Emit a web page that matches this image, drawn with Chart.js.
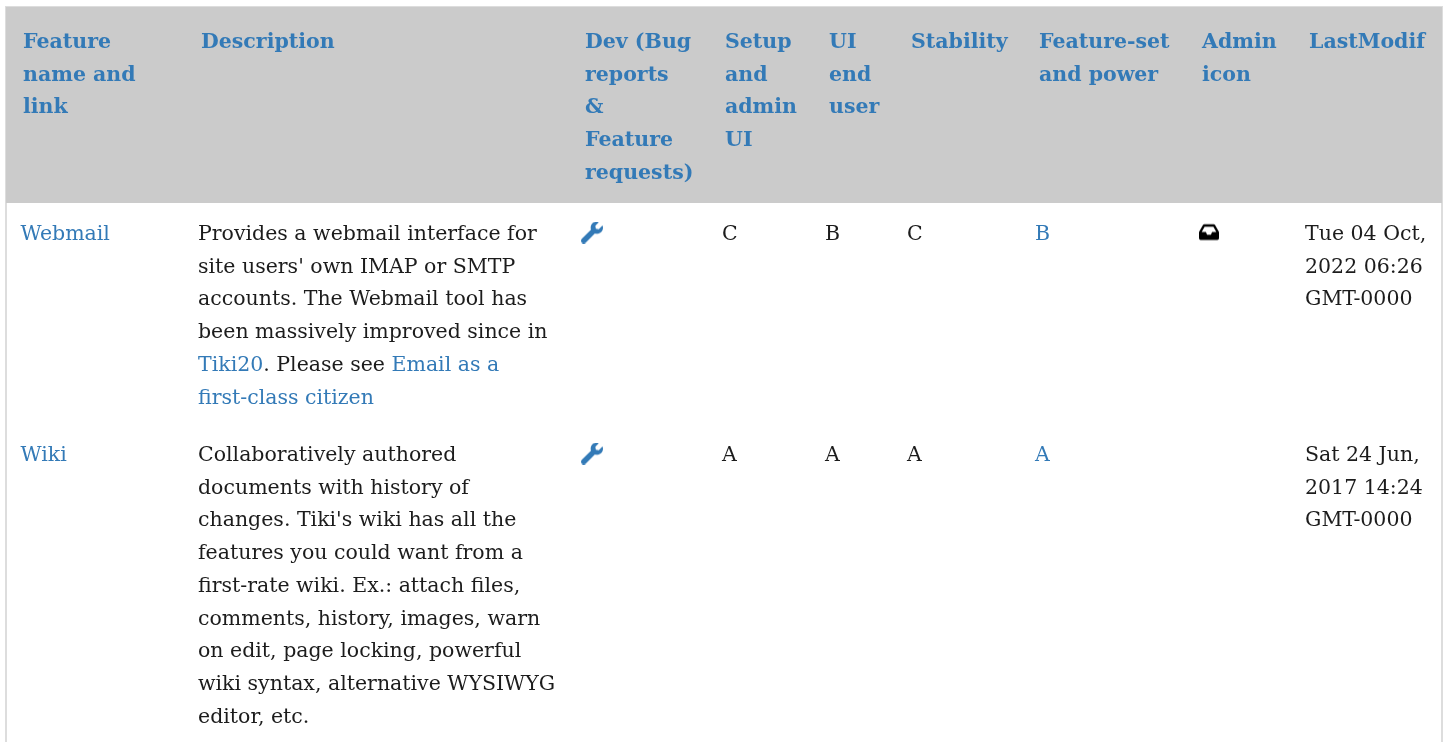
<!DOCTYPE html>
<html>
<head>
<meta charset="utf-8">
<title>Features</title>
<script src="https://cdn.jsdelivr.net/npm/chart.js@4/dist/chart.umd.min.js"></script>
<style>
    html, body { margin: 0; padding: 0; background: #fff; overflow: hidden; }
    canvas { display: block; }
</style>
</head>
<body>
<canvas id="table-chart" width="1450" height="742"></canvas>
<script>
// Table content
const columnHeaders = [
    ['Feature', 'name and', 'link'],
    ['Description'],
    ['Dev (Bug', 'reports', '&', 'Feature', 'requests)'],
    ['Setup', 'and', 'admin', 'UI'],
    ['UI', 'end', 'user'],
    ['Stability'],
    ['Feature-set', 'and power'],
    ['Admin', 'icon'],
    ['LastModif']
];
const featureNames = ['Webmail', 'Wiki'];
// [text] marks a link inside a line
const descriptions = [
    ['Provides a webmail interface for', "site users' own IMAP or SMTP", 'accounts. The Webmail tool has', 'been massively improved since in', '[Tiki20]. Please see [Email as a]', '[first-class citizen]'],
    ['Collaboratively authored', 'documents with history of', "changes. Tiki's wiki has all the", 'features you could want from a', 'first-rate wiki. Ex.: attach files,', 'comments, history, images, warn', 'on edit, page locking, powerful', 'wiki syntax, alternative WYSIWYG', 'editor, etc.']
];
const setupGrades = ['C', 'A'];
const uiGrades = ['B', 'A'];
const stabilityGrades = ['C', 'A'];
const powerGrades = ['B', 'A'];
const lastModified = [
    ['Tue 04 Oct,', '2022 06:26', 'GMT-0000'],
    ['Sat 24 Jun,', '2017 14:24', 'GMT-0000']
];

// Layout, in chart units (the scales map 1:1 to the canvas)
const headerX = [23, 201, 585, 725, 829, 911, 1039, 1202, 1309];
const cellX = [20.5, 198, 581, 722, 825, 907, 1035, 1198, 1305];
const headerBaseline = 48;
const rowBaseline = [240, 461];
const lineHeight = 32.7;
const linkColor = '#337ab7';
const textColor = '#1c1c1c';
const serif = '"DejaVu Serif", serif';

function iconSprite(path, viewW, viewH, w, h, color) {
    const c = document.createElement('canvas');
    c.width = w;
    c.height = h;
    const g = c.getContext('2d');
    g.scale(w / viewW, h / viewH);
    g.fillStyle = color;
    g.fill(new Path2D(path));
    return c;
}

const wrench = iconSprite('M507.73 109.1c-2.24-9.03-13.54-12.09-20.12-5.51l-74.36 74.36-67.88-11.31-11.31-67.88 74.36-74.36c6.62-6.62 3.43-17.9-5.66-20.16-47.38-11.74-99.55.91-136.58 37.93-39.64 39.64-50.55 97.1-34.05 147.2L18.74 402.76c-24.99 24.99-24.99 65.51 0 90.5 24.99 24.99 65.51 24.99 90.5 0l213.21-213.21c50.12 16.71 107.47 5.68 147.37-34.22 37.07-37.07 49.7-89.32 37.91-136.73z', 512, 512, 22, 22, linkColor);
const inbox = iconSprite('M567.938 243.908L462.25 85.374A48.003 48.003 0 0 0 422.311 64H153.689a48 48 0 0 0-39.938 21.374L8.062 243.908A47.994 47.994 0 0 0 0 270.533V400c0 26.51 21.49 48 48 48h480c26.51 0 48-21.49 48-48V270.533a47.994 47.994 0 0 0-8.062-26.625zM162.252 128h251.497l85.333 128H376l-32 64H232l-32-64H76.918l85.334-128z', 576, 512, 20, 21, '#000');

// Borders and header band, drawn under the icons
const tableFrame = {
    id: 'tableFrame',
    beforeDatasetsDraw(chart) {
        const { ctx, scales: { x, y } } = chart;
        ctx.save();
        ctx.fillStyle = '#dddddd';
        ctx.fillRect(x.getPixelForValue(5), y.getPixelForValue(6), 1438, 736);
        ctx.fillStyle = '#ffffff';
        ctx.fillRect(x.getPixelForValue(7), y.getPixelForValue(203), 1434, 539);
        ctx.fillStyle = '#cbcbcb';
        ctx.fillRect(x.getPixelForValue(6), y.getPixelForValue(7), 1436, 196);
        ctx.restore();
    }
};

function drawLine(ctx, line, left, top, color) {
    // split on the link marks and draw each piece after the previous one
    let px = left;
    line.split(/(\[[^\]]*\])/).filter(Boolean).forEach(function(part) {
        const isLink = part.charAt(0) === '[';
        const str = isLink ? part.slice(1, -1) : part;
        ctx.fillStyle = isLink ? linkColor : color;
        ctx.fillText(str, px, top);
        px += ctx.measureText(str).width;
    });
}

const tableText = {
    id: 'tableText',
    afterDatasetsDraw(chart) {
        const { ctx, scales: { x, y } } = chart;
        ctx.save();
        ctx.textBaseline = 'alphabetic';
        ctx.textAlign = 'left';

        ctx.font = 'bold 20.5px ' + serif;
        columnHeaders.forEach(function(lines, col) {
            lines.forEach(function(line, i) {
                ctx.fillStyle = linkColor;
                ctx.fillText(line, x.getPixelForValue(headerX[col]), y.getPixelForValue(headerBaseline + i * lineHeight));
            });
        });

        ctx.font = '20.5px ' + serif;
        rowBaseline.forEach(function(base, row) {
            const cell = function(col, lines, color) {
                lines.forEach(function(line, i) {
                    drawLine(ctx, line, x.getPixelForValue(cellX[col]), y.getPixelForValue(base + i * lineHeight), color);
                });
            };
            cell(0, [featureNames[row]], linkColor);
            cell(1, descriptions[row], textColor);
            cell(3, [setupGrades[row]], textColor);
            cell(4, [uiGrades[row]], textColor);
            cell(5, [stabilityGrades[row]], textColor);
            cell(6, [powerGrades[row]], linkColor);
            cell(8, lastModified[row], textColor);
        });
        ctx.restore();
    }
};

new Chart(document.getElementById('table-chart'), {
    type: 'scatter',
    data: {
        datasets: [
            {
                label: 'Dev',
                data: rowBaseline.map(function(base) { return { x: cellX[2] + 11, y: base - 7.5 }; }),
                pointStyle: wrench
            },
            {
                label: 'Admin icon',
                data: [{ x: cellX[7] + 11, y: rowBaseline[0] - 8 }],
                pointStyle: inbox
            }
        ]
    },
    options: {
        responsive: false,
        animation: false,
        layout: { padding: 0, autoPadding: false },
        plugins: { legend: { display: false }, tooltip: { enabled: false } },
        scales: {
            x: { type: 'linear', min: 0, max: 1450, display: false },
            y: { type: 'linear', min: 0, max: 742, reverse: true, display: false }
        }
    },
    plugins: [tableFrame, tableText]
});
</script>
</body>
</html>
